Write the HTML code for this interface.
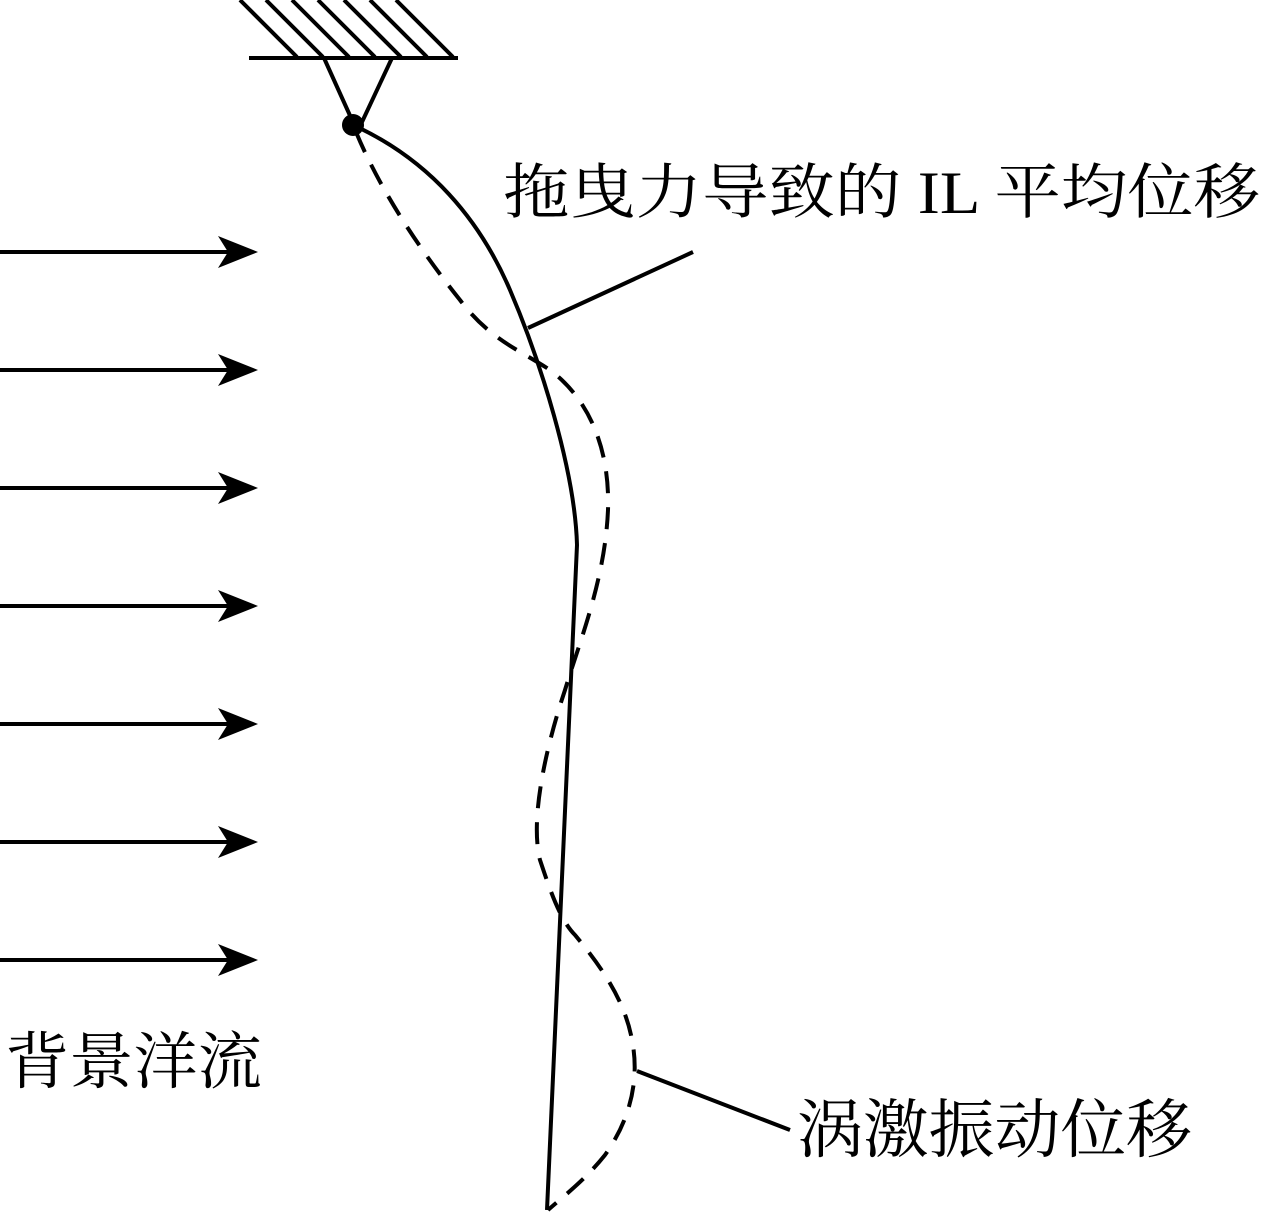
<!DOCTYPE html>
<html><head><meta charset="utf-8"><style>
html,body{margin:0;padding:0;background:#fff;}
svg{display:block;}
text{font-family:"Liberation Serif","Noto Serif CJK SC","Noto Sans CJK SC",serif;fill:#000;}
</style></head><body>
<svg width="1264" height="1215" viewBox="0 0 1264 1215" xmlns="http://www.w3.org/2000/svg">
<g stroke="#000" stroke-width="4" fill="none">
<line x1="249" y1="58" x2="458" y2="58"/>
<line x1="240" y1="0" x2="297" y2="57"/>
<line x1="266" y1="0" x2="323" y2="57"/>
<line x1="292" y1="0" x2="349" y2="57"/>
<line x1="318" y1="0" x2="375" y2="57"/>
<line x1="344" y1="0" x2="401" y2="57"/>
<line x1="370" y1="0" x2="427" y2="57"/>
<line x1="396" y1="0" x2="453" y2="57"/>
<line x1="324" y1="58" x2="352" y2="120"/>
<line x1="392" y1="58" x2="362" y2="122"/>
<path d="M353,125 C430,160 480,220 510,290 C540,360 575,470 577,545 L547,1210"/>
<path stroke-dasharray="22,14" d="M356,132 C380,190 420,250 460,300 C490,340 520,350 550,370 C590,400 610,450 608,510 C605,580 580,640 565,690 C545,750 530,820 540,860 C550,890 560,920 575,935 C600,965 625,1000 632,1040 C640,1080 630,1120 605,1155 C585,1180 565,1195 548,1210"/>
<line x1="528" y1="328" x2="693" y2="252"/>
<line x1="637" y1="1071" x2="790" y2="1130"/>
</g>
<circle cx="353" cy="125" r="11" fill="#000"/>
<g stroke="#000" stroke-width="4">
<line x1="0" y1="252" x2="230" y2="252"/>
<line x1="0" y1="370" x2="230" y2="370"/>
<line x1="0" y1="488" x2="230" y2="488"/>
<line x1="0" y1="606" x2="230" y2="606"/>
<line x1="0" y1="724" x2="230" y2="724"/>
<line x1="0" y1="842" x2="230" y2="842"/>
<line x1="0" y1="960" x2="230" y2="960"/>
</g>
<g fill="#000">
<path d="M258,252 L218,236 L228,252 L218,268Z"/>
<path d="M258,370 L218,354 L228,370 L218,386Z"/>
<path d="M258,488 L218,472 L228,488 L218,504Z"/>
<path d="M258,606 L218,590 L228,606 L218,622Z"/>
<path d="M258,724 L218,708 L228,724 L218,740Z"/>
<path d="M258,842 L218,826 L228,842 L218,858Z"/>
<path d="M258,960 L218,944 L228,960 L218,976Z"/>
</g>
<text x="503" y="213" font-size="60" textLength="757" lengthAdjust="spacingAndGlyphs">拖曳力导致的 IL 平均位移</text>
<text x="5" y="1083" font-size="62" textLength="257" lengthAdjust="spacingAndGlyphs">背景洋流</text>
<text x="797" y="1152" font-size="64" textLength="395" lengthAdjust="spacingAndGlyphs">涡激振动位移</text>
</svg>
</body></html>
